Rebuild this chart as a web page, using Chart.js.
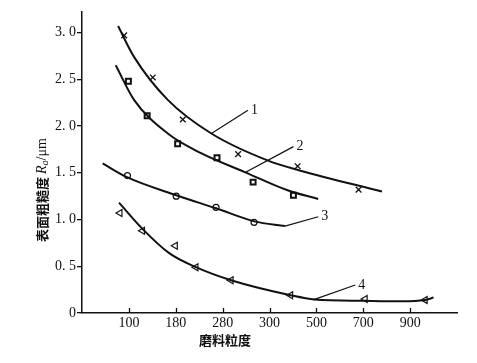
<!DOCTYPE html>
<html>
<head>
<meta charset="utf-8">
<script src="https://cdn.jsdelivr.net/npm/chart.js@4"></script>
<style>
  html, body { margin: 0; padding: 0; background: #fff; }
  #wrap { width: 477px; height: 363px; }
</style>
</head>
<body>
<div id="wrap"><canvas id="myChart" width="477" height="363"></canvas></div>
<script>
// x axis: grit sizes, evenly spaced (index positions 0..6)
const xLabels = ['100', '180', '280', '300', '500', '700', '900'];
const yTicks = [0, 0.5, 1, 1.5, 2, 2.5, 3];

// measured points (x = position along the grit axis in tick units)
const p1X = [-0.1, 0.51, 1.15, 2.33, 3.6, 4.9];
const p1Y = [2.97, 2.52, 2.07, 1.70, 1.57, 1.32];
const p2X = [-0.01, 0.39, 1.04, 1.88, 2.65, 3.51];
const p2Y = [2.48, 2.11, 1.81, 1.66, 1.40, 1.26];
const p3X = [-0.03, 1.01, 1.86, 2.67];
const p3Y = [1.47, 1.25, 1.13, 0.97];
const p4X = [-0.19, 0.29, 0.99, 1.43, 2.18, 3.45, 5.04, 6.32];
const p4Y = [1.07, 0.88, 0.72, 0.49, 0.35, 0.19, 0.15, 0.14];

// fitted curves
const c1X = [-0.23, 0.11, 0.83, 1.76, 2.97, 3.68, 5.40];
const c1Y = [3.07, 2.74, 2.28, 1.92, 1.63, 1.52, 1.30];
const c2X = [-0.28, 0.11, 0.83, 1.54, 2.46, 3.40, 4.04];
const c2Y = [2.65, 2.28, 1.92, 1.71, 1.51, 1.31, 1.22];
const c3X = [-0.56, -0.03, 1.01, 1.86, 2.68, 3.33];
const c3Y = [1.60, 1.45, 1.26, 1.12, 0.98, 0.93];
const c4X = [-0.21, 0.29, 0.86, 1.43, 2.18, 3.45, 3.96, 5.03, 5.82, 6.32, 6.50];
const c4Y = [1.18, 0.90, 0.64, 0.49, 0.35, 0.19, 0.145, 0.13, 0.125, 0.14, 0.165];

// curve labels with leader lines: [fromX, fromY, toX, toY]
const curveNames = ['1', '2', '3', '4'];
const leaders = [
    [1.76, 1.92, 2.54, 2.17],
    [2.47, 1.50, 3.51, 1.78],
    [3.33, 0.93, 4.04, 1.03],
    [3.93, 0.14, 4.83, 0.30]
];

const SERIF = '"Liberation Serif", "DejaVu Serif", serif';
const CJK = '"Noto Sans CJK SC", sans-serif';

const toPoints = (xs, ys) => xs.map((x, i) => ({ x: x, y: ys[i] }));

const curve = (xs, ys) => ({
    data: toPoints(xs, ys),
    borderColor: '#111',
    borderWidth: 2,
    pointRadius: 0,
    cubicInterpolationMode: 'monotone',
    fill: false
});

const marks = (xs, ys, style, radius, width, rotation) => ({
    data: toPoints(xs, ys),
    showLine: false,
    pointStyle: style,
    pointRadius: radius,
    pointRotation: rotation || 0,
    pointBorderColor: '#111',
    pointBackgroundColor: '#fff',
    pointBorderWidth: width,
    borderColor: '#111'
});

const leaderSets = leaders.map(l => ({
    data: [{ x: l[0], y: l[1] }, { x: l[2], y: l[3] }],
    borderColor: '#111',
    borderWidth: 1.2,
    pointRadius: 0,
    tension: 0
}));

const extras = {
    id: 'extras',
    afterDraw(chart) {
        const ctx = chart.ctx;
        const xs = chart.scales.x;
        const ys = chart.scales.y;
        const bottom = chart.chartArea.bottom;
        ctx.save();
        ctx.strokeStyle = '#111';
        ctx.lineWidth = 1.3;
        // x tick marks point up into the plot
        xLabels.forEach((lab, i) => {
            const px = Math.round(xs.getPixelForValue(i)) + 0.5;
            ctx.beginPath();
            ctx.moveTo(px, bottom);
            ctx.lineTo(px, bottom - 5);
            ctx.stroke();
        });
        // curve numbers
        ctx.fillStyle = '#111';
        ctx.font = '14px ' + SERIF;
        ctx.textAlign = 'left';
        ctx.textBaseline = 'middle';
        leaders.forEach((l, i) => {
            ctx.fillText(curveNames[i], xs.getPixelForValue(l[2]) + 3, ys.getPixelForValue(l[3]));
        });
        // x title
        ctx.font = 'bold 13px ' + CJK;
        ctx.textAlign = 'center';
        ctx.fillText('磨料粒度', 225, 340);
        // y title, rotated
        ctx.translate(42, 190);
        ctx.rotate(-Math.PI / 2);
        const parts = [
            ['表面粗糙度 ', 'bold 13px ' + CJK, 0],
            ['R', 'italic 14px ' + SERIF, 0],
            ['a', 'italic 10px ' + SERIF, 3],
            ['/μm', '14px ' + SERIF, 0]
        ];
        let total = 0;
        parts.forEach(p => { ctx.font = p[1]; total += ctx.measureText(p[0]).width; });
        let cx = -total / 2;
        ctx.textAlign = 'left';
        parts.forEach(p => {
            ctx.font = p[1];
            ctx.fillText(p[0], cx, p[2]);
            cx += ctx.measureText(p[0]).width;
        });
        ctx.restore();
    }
};

const ctx = document.getElementById('myChart').getContext('2d');
new Chart(ctx, {
    type: 'line',
    data: {
        datasets: [
            curve(c1X, c1Y),
            curve(c2X, c2Y),
            curve(c3X, c3Y),
            curve(c4X, c4Y),
            ...leaderSets,
            marks(p1X, p1Y, 'crossRot', 4, 1.3),
            marks(p2X, p2Y, 'rect', 3.5, 2),
            marks(p3X, p3Y, 'circle', 3, 1.2),
            marks(p4X, p4Y, 'triangle', 4, 1.2, -90)
        ]
    },
    options: {
        responsive: false,
        animation: false,
        layout: { padding: { top: 12, right: 20, left: 0, bottom: 0 } },
        plugins: {
            legend: { display: false },
            tooltip: { enabled: false }
        },
        scales: {
            x: {
                type: 'linear',
                min: -1,
                max: 7,
                afterBuildTicks: (scale) => {
                    scale.ticks = xLabels.map((l, i) => ({ value: i }));
                },
                afterFit: (scale) => {
                    scale.height = 50;
                    scale.paddingLeft = 0;
                    scale.paddingRight = 0;
                },
                grid: { display: true, drawOnChartArea: false, drawTicks: false },
                border: { display: true, color: '#111', width: 1.5 },
                ticks: {
                    padding: 2,
                    color: '#111',
                    font: { family: SERIF, size: 14 },
                    maxRotation: 0,
                    autoSkip: false,
                    callback: (v) => xLabels[v]
                }
            },
            y: {
                type: 'linear',
                min: 0,
                max: 3.22,
                afterBuildTicks: (scale) => {
                    scale.ticks = yTicks.map(v => ({ value: v }));
                },
                afterFit: (scale) => {
                    scale.width = 82;
                    scale.paddingTop = 0;
                    scale.paddingBottom = 0;
                },
                grid: { drawOnChartArea: false, drawTicks: true, tickLength: 5, color: '#111', lineWidth: 1.3 },
                border: { display: true, color: '#111', width: 1.5 },
                ticks: {
                    padding: 1,
                    color: '#111',
                    font: { family: SERIF, size: 14 },
                    callback: (v) => v === 0 ? '0' : v.toFixed(1).replace('.', '. ')
                }
            }
        }
    },
    plugins: [extras]
});
</script>
</body>
</html>
